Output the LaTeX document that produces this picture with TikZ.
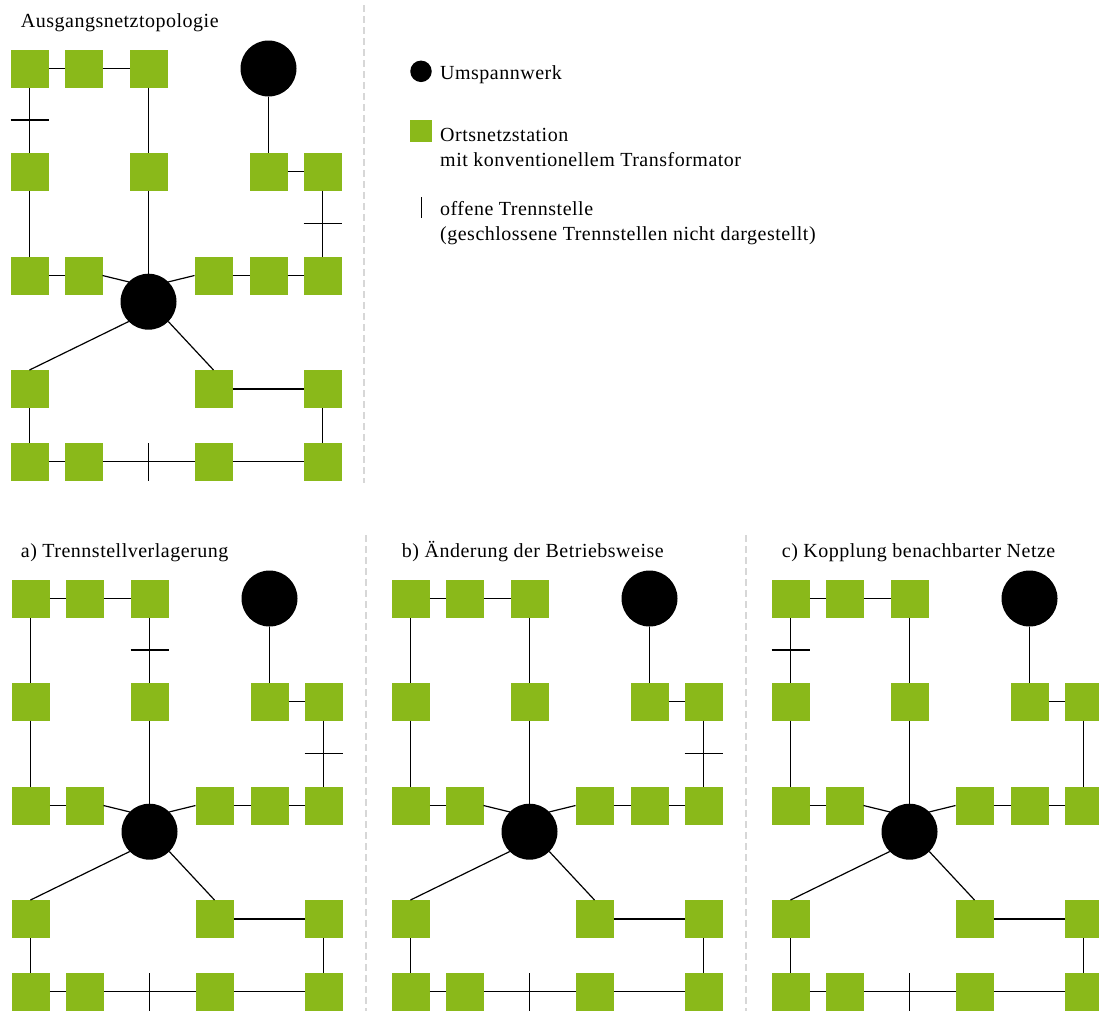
\documentclass[tikz,border=0pt]{standalone}
\usepackage{fontspec}
\setmainfont{Liberation Serif}[LetterSpace=2.5]
\definecolor{ongreen}{RGB}{138,185,26}
\definecolor{divgray}{RGB}{215,215,215}
\tikzset{
  stat/.style={rectangle, fill=ongreen, minimum size=38pt, inner sep=0pt, outer sep=0pt},
  usw/.style={circle, fill=black, minimum size=56pt, inner sep=0pt, outer sep=0pt},
  conn/.style={draw=black, line width=1.2pt},
  txt/.style={anchor=base west, inner sep=0pt, font=\fontsize{20}{24}\selectfont},
  divider/.style={draw=divgray, line width=1.3pt, dash pattern=on 7pt off 4pt},
}
\newcommand{\netz}[3]{%
\begin{scope}[shift={(#2,#3)}]
  \node[stat] (#1r1c1) at (29.5,68.5) {};
  \node[stat] (#1r1c2) at (83.5,68.5) {};
  \node[stat] (#1r1c3) at (148.5,68.5) {};
  \node[usw]  (#1T)    at (268.5,68.5) {};
  \node[stat] (#1r2c1) at (29.5,171.5) {};
  \node[stat] (#1r2c3) at (148.5,171.5) {};
  \node[stat] (#1r2c5) at (268.5,171.5) {};
  \node[stat] (#1r2c6) at (322.5,171.5) {};
  \node[stat] (#1r3c1) at (29.5,275.5) {};
  \node[stat] (#1r3c2) at (83.5,275.5) {};
  \node[stat] (#1r3c4) at (213.5,275.5) {};
  \node[stat] (#1r3c5) at (268.5,275.5) {};
  \node[stat] (#1r3c6) at (322.5,275.5) {};
  \node[usw]  (#1C)    at (148.5,301.7) {};
  \node[stat] (#1r4c1) at (29.5,389) {};
  \node[stat] (#1r4c4) at (213.5,389) {};
  \node[stat] (#1r4c6) at (322.5,389) {};
  \node[stat] (#1r5c1) at (29.5,461.5) {};
  \node[stat] (#1r5c2) at (83.5,461.5) {};
  \node[stat] (#1r5c4) at (213.5,461.5) {};
  \node[stat] (#1r5c6) at (322.5,461.5) {};
  \draw[conn] (#1r1c1) -- (#1r1c2);
  \draw[conn] (#1r1c2) -- (#1r1c3);
  \draw[conn] (#1r1c1) -- coordinate (#1tA) (#1r2c1);
  \draw[conn] (#1r1c3) -- coordinate (#1tB) (#1r2c3);
  \draw[conn] (#1r2c3) -- (#1C);
  \draw[conn] (#1T) -- (#1r2c5);
  \draw[conn] (#1r2c5) -- (#1r2c6);
  \draw[conn] (#1r2c6) -- coordinate (#1tC) (#1r3c6);
  \draw[conn] (#1r2c1) -- (#1r3c1);
  \draw[conn] (#1r3c1) -- (#1r3c2);
  \draw[conn] (#1r3c2.east) -- (#1C.135);
  \draw[conn] (#1C.45) -- (#1r3c4.west);
  \draw[conn] (#1r3c4) -- (#1r3c5);
  \draw[conn] (#1r3c5) -- (#1r3c6);
  \draw[conn] (#1C.225) -- (#1r4c1.north);
  \draw[conn] (#1C.-45) -- (#1r4c4.north);
  \draw[conn] (#1r4c4) -- (#1r4c6);
  \draw[conn] (#1r4c1) -- (#1r5c1);
  \draw[conn] (#1r4c6) -- (#1r5c6);
  \draw[conn] (#1r5c1) -- (#1r5c2);
  \draw[conn] (#1r5c2) -- coordinate (#1tD) (#1r5c4);
  \draw[conn] (#1r5c4) -- (#1r5c6);
\end{scope}}
\newcommand{\tickh}[1]{\draw[conn] ([xshift=-19pt]#1) -- ([xshift=19pt]#1);}
\newcommand{\tickv}[1]{\draw[conn] ([yshift=-19pt]#1) -- ([yshift=19pt]#1);}
\begin{document}
\begin{tikzpicture}[x=1pt, y=-1pt]
  \useasboundingbox (0,0) rectangle (1099,1010);
  \begin{scope}
  \clip (0,0) rectangle (1099,1010);
  % dividers
  \draw[divider] (364,5) -- (364,483);
  \draw[divider] (366,535) -- (366,1012);
  \draw[divider] (746,535) -- (746,1012);
  % titles
  \node[txt] (t0) at (20.7,27) {Ausgangsnetztopologie};
  \node[txt] (ta) at (20.7,557) {a) Trennstellverlagerung};
  \node[txt] (tb) at (401.7,557) {b) Änderung der Betriebsweise};
  \node[txt] (tc) at (781.7,557) {c) Kopplung benachbarter Netze};
  % networks
  \netz{o}{0}{0}
  \tickh{otA} \tickh{otC} \tickv{otD}
  \netz{a}{1}{530}
  \tickh{atB} \tickh{atC} \tickv{atD}
  \netz{b}{381}{530}
  \tickh{btC} \tickv{btD}
  \netz{c}{761}{530}
  \tickh{ctA} \tickv{ctD}
  % legend
  \node[circle, fill=black, minimum size=21.5pt, inner sep=0pt] (lgC) at (421,71.3) {};
  \node[rectangle, fill=ongreen, minimum size=21.5pt, inner sep=0pt] (lgS) at (421,131) {};
  \coordinate (lgT1) at (421.7,197);
  \coordinate (lgT2) at (421.7,218);
  \draw[conn, line width=1.4pt] (lgT1) -- (lgT2);
  \node[txt] (l1) at (440,79.3) {Umspannwerk};
  \node[txt] (l2) at (440,141.7) {Ortsnetzstation};
  \node[txt] (l3) at (440,166.7) {mit konventionellem Transformator};
  \node[txt] (l4) at (440,215) {offene Trennstelle};
  \node[txt] (l5) at (440,240) {(geschlossene Trennstellen nicht dargestellt)};
  \end{scope}
\end{tikzpicture}
\end{document}
